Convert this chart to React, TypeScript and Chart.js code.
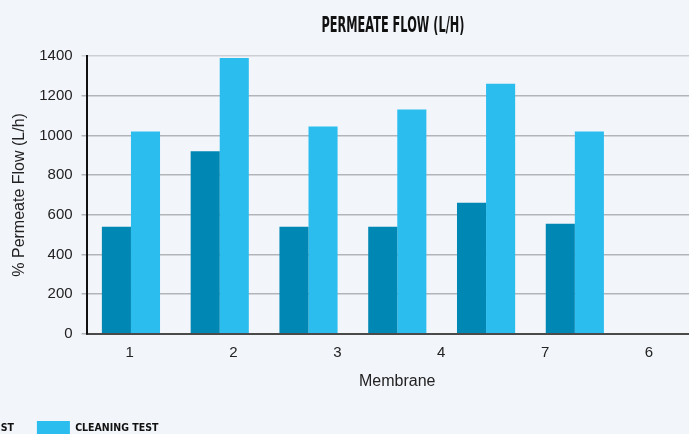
import React, { useEffect, useRef, useState } from 'react';
import { Chart, registerables } from 'chart.js';

Chart.register(...registerables);

// ---- data ----
const categories = ['1', '2', '3', '4', '7', '6'];
const barSlots = ['1', '2', '3', '4', '7', '6', ''];
const seriesNames = ['INITIAL TEST', 'CLEANING TEST'];
const initialFlow = [540, 920, 540, 540, 660, 555];
const cleaningFlow = [1020, 1390, 1045, 1130, 1260, 1020];
const yMin = 0;
const yMax = 1400;
const yStep = 200;
const chartTitle = 'PERMEATE FLOW (L/H)';
const xTitle = 'Membrane';
const yTitle = '% Permeate Flow (L/h)';

// ---- style ----
const SANS = "'Liberation Sans', Arial, Helvetica, sans-serif";
const NARROW = "'Liberation Sans Narrow', 'DejaVu Sans Condensed', 'Arial Narrow', sans-serif";
const LEGEND_SIZE = 10.5;
const LEGEND_PAD = 23;
const BOX_W = 33;
const DARK = '#0087B4';
const LIGHT = '#2BBDEE';

function measure(text: string, size: number, family: string, weight = 'bold') {
  const c = document.createElement('canvas').getContext('2d');
  if (!c) return 60;
  c.font = `${weight} ${size}px ${family}`;
  return c.measureText(text).width;
}

export default function App() {
  const ref = useRef<HTMLCanvasElement>(null);
  const [geom] = useState(() => {
    const tw = measure(seriesNames[0], LEGEND_SIZE, NARROW);
    const X = Math.round(LEGEND_PAD * 2 + BOX_W + LEGEND_SIZE / 2 + tw - 37);
    return { X, W: X + 708 + 20, H: 448 };
  });

  useEffect(() => {
    if (!ref.current) return;
    const X = geom.X;
    const areaLeft = 87;
    const areaRight = 708;
    const firstLabel = 130;
    const labelStep = 103.8;
    const x2min = -(firstLabel - areaLeft) / labelStep;
    const x2max = x2min + (areaRight - areaLeft) / labelStep;

    // condensed display title (horizontally compressed like the reference typeface)
    const condensedTitle = {
      id: 'condensedTitle',
      afterDraw(chart: any) {
        const { ctx } = chart;
        ctx.save();
        ctx.font = `bold 20.5px ${NARROW}`;
        const w = ctx.measureText(chartTitle).width;
        const sx = 143 / w;
        ctx.translate(X + 393, 31.5);
        ctx.scale(sx, 1);
        ctx.textAlign = 'center';
        ctx.textBaseline = 'alphabetic';
        ctx.fillStyle = '#111';
        ctx.fillText(chartTitle, 0, 0);
        ctx.restore();
      },
    };

    const chart = new Chart(ref.current, {
      type: 'bar',
      data: {
        labels: barSlots,
        datasets: [
          {
            label: seriesNames[0],
            data: initialFlow,
            backgroundColor: DARK,
            borderWidth: 0,
            barPercentage: 1,
            categoryPercentage: 0.655,
          },
          {
            label: seriesNames[1],
            data: cleaningFlow,
            backgroundColor: LIGHT,
            borderWidth: 0,
            barPercentage: 1,
            categoryPercentage: 0.655,
          },
        ],
      },
      plugins: [condensedTitle],
      options: {
        responsive: false,
        animation: false,
        layout: { padding: { left: 0, right: 20, top: 56, bottom: 3 } },
        plugins: {
          title: { display: false },
          legend: {
            position: 'bottom',
            align: 'start',
            labels: {
              boxWidth: BOX_W,
              boxHeight: 14,
              padding: LEGEND_PAD,
              color: '#111',
              font: { family: NARROW, size: LEGEND_SIZE, weight: 'bold' },
            },
          },
          tooltip: { enabled: false },
        },
        scales: {
          x: {
            type: 'category',
            position: 'bottom',
            weight: 0,
            z: 1,
            grid: { display: false, drawTicks: false },
            ticks: { display: false },
            border: { display: true, color: '#4a4a4a', width: 2 },
          },
          x2: {
            type: 'linear',
            position: 'bottom',
            weight: 1,
            offset: false,
            min: x2min,
            max: x2max,
            grid: { display: false, drawTicks: false, offset: false },
            border: { display: false },
            ticks: {
              stepSize: 1,
              includeBounds: false,
              autoSkip: false,
              padding: 10,
              color: '#222',
              font: { family: SANS, size: 15 },
              callback: (v: any) => (Number.isInteger(v) && categories[v] !== undefined ? categories[v] : ''),
            },
            title: {
              display: true,
              text: xTitle,
              color: '#222',
              font: { family: SANS, size: 16 },
              padding: { top: 0, bottom: 7 },
            },
          },
          y: {
            min: yMin,
            max: yMax,
            ticks: {
              stepSize: yStep,
              padding: 9,
              color: '#222',
              font: { family: SANS, size: 15 },
              callback: (v: any) => String(v),
            },
            grid: {
              color: (c: any) => (c.tick && c.tick.value === yMax ? '#cdd0d3' : '#b2b5b8'),
              lineWidth: 1.5,
              tickLength: 5,
            },
            border: { color: '#111', width: 2 },
            title: {
              display: true,
              text: yTitle,
              color: '#222',
              font: { family: SANS, size: 16 },
              padding: { top: X + 10, bottom: 1 },
            },
          },
        },
      },
    } as any);
    return () => chart.destroy();
  }, [geom]);

  return (
    <div
      style={{
        position: 'fixed',
        left: 0,
        top: 0,
        width: 689,
        height: 434,
        overflow: 'hidden',
        background: '#F2F5FA',
      }}
    >
      <div style={{ position: 'absolute', left: -geom.X, top: 0, width: geom.W, height: geom.H }}>
        <canvas ref={ref} width={geom.W} height={geom.H} style={{ display: 'block' }} />
      </div>
    </div>
  );
}
